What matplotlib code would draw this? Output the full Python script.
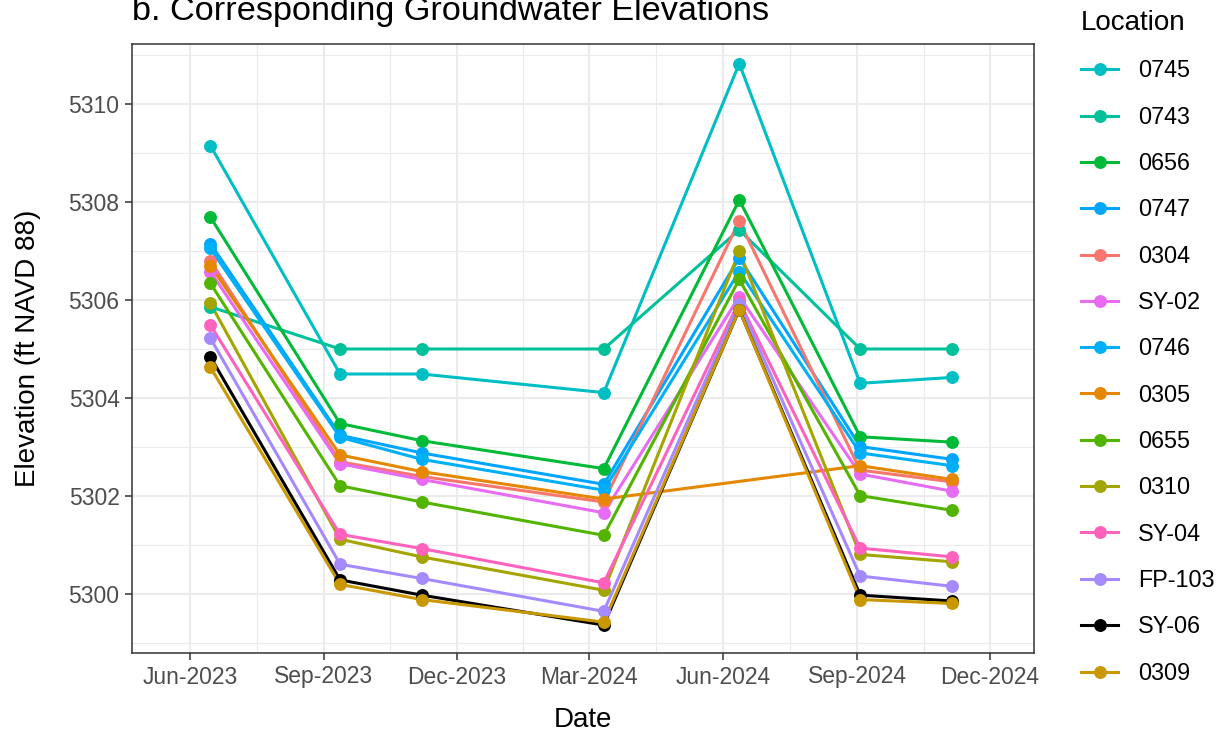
import matplotlib
matplotlib.use("Agg")
import matplotlib.pyplot as plt
import matplotlib.dates as mdates
from matplotlib.lines import Line2D
import numpy as np
import pandas as pd

plt.rcParams['font.family'] = ['Liberation Sans', 'DejaVu Sans']

# ---------------- data ----------------
dates = ["2023-06-15", "2023-09-12", "2023-11-07", "2024-03-11",
         "2024-06-12", "2024-09-03", "2024-11-05"]

locations = ["0745", "0743", "0656", "0747", "0304", "SY-02", "0746",
             "0305", "0655", "0310", "SY-04", "FP-103", "SY-06", "0309"]

colors = ["#00BFC4", "#00C19A", "#00BA38", "#00A5FF", "#F8766D", "#E76BF3",
          "#00B0F6", "#E58700", "#53B400", "#A3A500", "#FF62BC", "#A58AFF",
          "#000000", "#C99800"]

e_0745 = [5309.15, 5304.49, 5304.49, 5304.11, 5310.82, 5304.30, 5304.42]
e_0743 = [5305.86, 5305.00, 5305.00, 5305.00, 5307.43, 5305.00, 5305.00]
e_0656 = [5307.69, 5303.48, 5303.13, 5302.56, 5308.04, 5303.21, 5303.10]
e_0747 = [5307.15, 5303.24, 5302.88, 5302.24, 5306.86, 5303.01, 5302.75]
e_0304 = [5306.80, 5302.70, 5302.40, 5301.88, 5307.61, 5302.53, 5302.29]
e_SY02 = [5306.58, 5302.66, 5302.34, 5301.66, 5306.07, 5302.45, 5302.10]
e_0746 = [5307.05, 5303.20, 5302.75, 5302.12, 5306.58, 5302.88, 5302.62]
e_0305 = [5306.70, 5302.84, 5302.50, 5301.94, None, 5302.62, 5302.34]
e_0655 = [5306.34, 5302.21, 5301.88, 5301.20, 5306.42, 5302.01, 5301.71]
e_0310 = [5305.93, 5301.12, 5300.76, 5300.08, 5306.99, 5300.81, 5300.66]
e_SY04 = [5305.49, 5301.22, 5300.93, 5300.23, 5305.97, 5300.94, 5300.76]
e_FP103 = [5305.22, 5300.61, 5300.32, 5299.65, 5305.92, 5300.37, 5300.16]
e_SY06 = [5304.84, 5300.29, 5299.98, 5299.37, 5305.80, 5299.98, 5299.86]
e_0309 = [5304.63, 5300.20, 5299.89, 5299.43, 5305.80, 5299.89, 5299.81]

series = [e_0745, e_0743, e_0656, e_0747, e_0304, e_SY02, e_0746,
          e_0305, e_0655, e_0310, e_SY04, e_FP103, e_SY06, e_0309]

major_ticks = ["2023-06-01", "2023-09-01", "2023-12-01", "2024-03-01",
               "2024-06-01", "2024-09-01", "2024-12-01"]
y_ticks = [5300, 5302, 5304, 5306, 5308, 5310]

# ---------------- figure ----------------
W, H = 1224, 731
fig = plt.figure(figsize=(W / 100, H / 100), dpi=100)
ax = fig.add_axes([132 / W, (H - 653) / H, (1034 - 132) / W, (653 - 44) / H])

x = pd.to_datetime(dates)
lw = 2.2
ms = 9.3
for vals, c in zip(series, colors):
    v = np.array([np.nan if a is None else a for a in vals], dtype=float)
    m = ~np.isnan(v)
    ax.plot(x[m], v[m], color=c, lw=lw, zorder=3, solid_capstyle='butt')
for vals, c in zip(series, colors):
    v = np.array([np.nan if a is None else a for a in vals], dtype=float)
    m = ~np.isnan(v)
    ax.plot(x[m], v[m], 'o', color=c, ms=ms, mew=0, zorder=4)

# axes limits
t0 = pd.Timestamp("2023-06-01")
ax.set_xlim(mdates.date2num(t0 - pd.Timedelta(days=39.8)),
            mdates.date2num(t0 + pd.Timedelta(days=579.3)))
ax.set_ylim(5298.80, 5311.22)

mt = pd.to_datetime(major_ticks)
mt_num = mdates.date2num(mt)
ax.set_xticks(mt_num)
ax.set_xticklabels([d.strftime("%b-%Y") for d in mt])
ax.set_xticks((mt_num[:-1] + mt_num[1:]) / 2, minor=True)
ax.set_yticks(y_ticks)
ax.set_yticks(np.arange(5299, 5312, 2), minor=True)

# theme_bw style
ax.set_facecolor("white")
ax.grid(which='major', color="#EBEBEB", lw=1.5, zorder=0)
ax.grid(which='minor', color="#EBEBEB", lw=0.8, zorder=0)
ax.set_axisbelow(True)
for s in ax.spines.values():
    s.set_color("#333333")
    s.set_linewidth(1.1)
ax.tick_params(which='major', length=5, width=1.1, color="#333333",
               labelsize=16.5, labelcolor="#4D4D4D", pad=4)
ax.tick_params(which='minor', length=0)

ax.set_xlabel("Date", fontsize=20, color="black", labelpad=13)
ax.set_ylabel("Elevation (ft NAVD 88)", fontsize=20, color="black", labelpad=20)

fig.text(132 / W, 1 - 20 / H, "b. Corresponding Groundwater Elevations",
         fontsize=24.7, ha='left', va='baseline', color='black')

handles = [Line2D([0], [0], color=c, lw=lw, marker='o', ms=ms, mew=0)
           for c in colors]
leg = fig.legend(handles, locations, loc='upper left',
                 bbox_to_anchor=(1081 / W, 1 - 10 / H), frameon=False,
                 title="Location", title_fontsize=20, fontsize=16.8,
                 handlelength=1.6, handletextpad=0.85, labelspacing=1.0,
                 borderpad=0, borderaxespad=0, alignment='left')

fig.savefig("out.png", dpi=100, facecolor="white")
